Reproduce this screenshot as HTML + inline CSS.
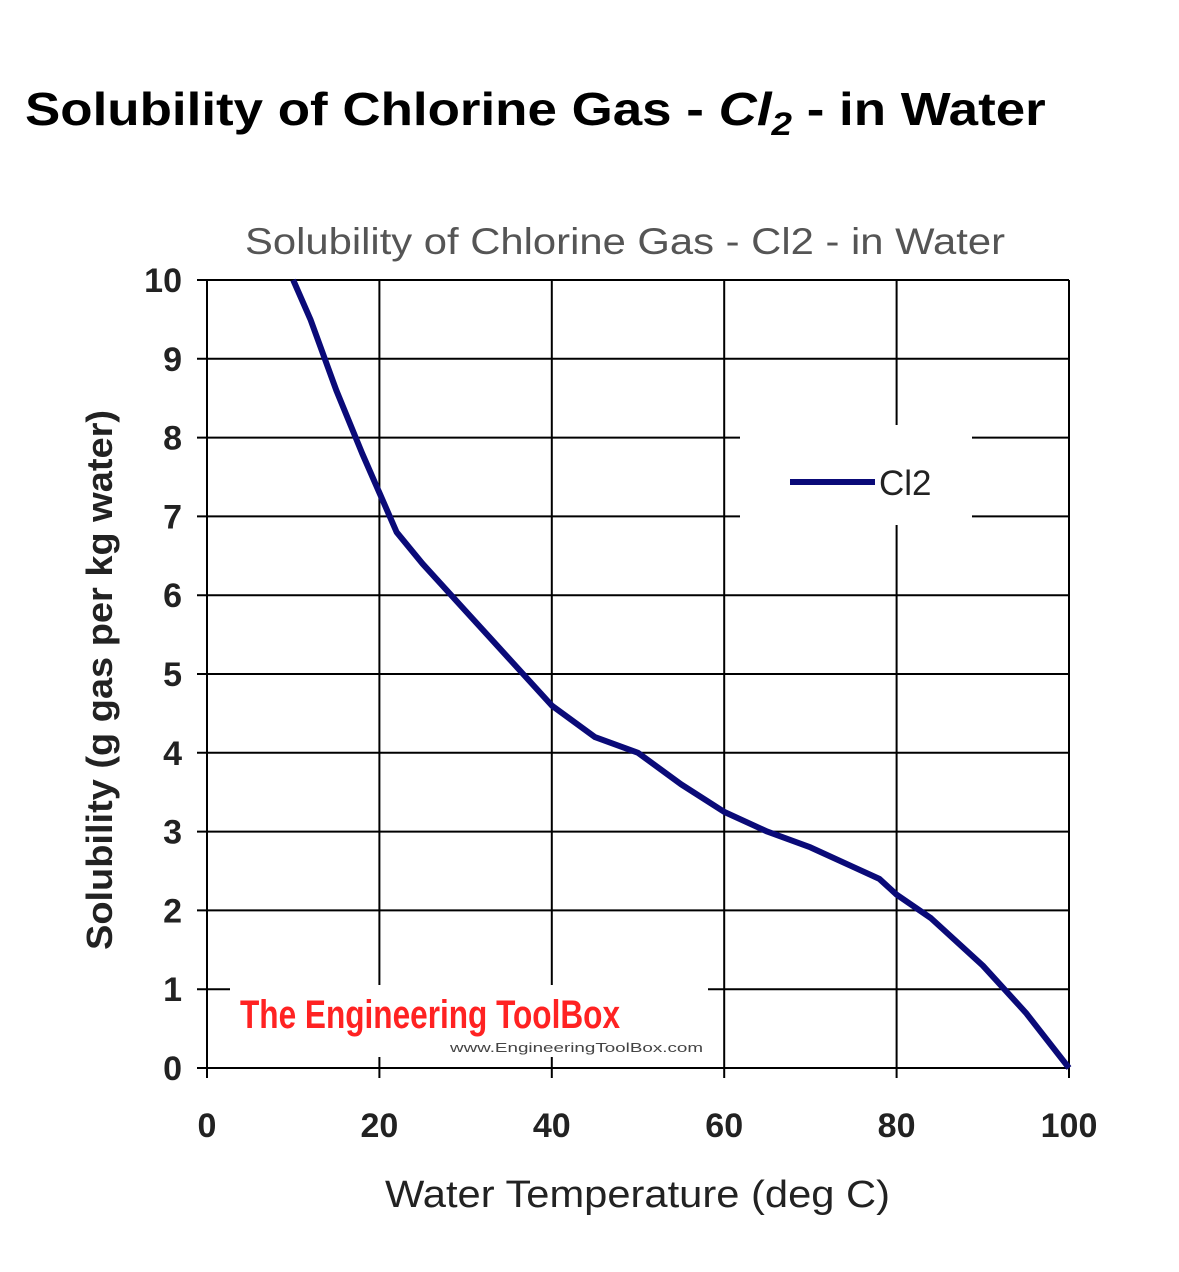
<!DOCTYPE html>
<html><head><meta charset="utf-8"><style>
body{margin:0;background:#fff;width:1179px;height:1272px;overflow:hidden;font-family:"Liberation Sans",sans-serif}
#title{position:absolute;left:25px;top:82px;font-size:46px;font-weight:bold;color:#000;white-space:nowrap;transform:scaleX(1.15);transform-origin:0 0}
</style></head><body>
<div id="title">Solubility of Chlorine Gas - <i>Cl<sub style="font-size:32px">2</sub></i> - in Water</div>
<svg id="chart" width="1179" height="1272" style="position:absolute;left:0;top:0"></svg>
<script>
const temps=[10,12,15,18,20,22,25,30,35,40,45,50,55,60,65,70,75,78,80,84,90,95,100];
const solubility=[10,9.5,8.6,7.8,7.3,6.8,6.4,5.8,5.2,4.6,4.2,4.0,3.6,3.25,3.0,2.8,2.55,2.4,2.2,1.9,1.3,0.7,0];
const xTicks=[0,20,40,60,80,100];
const yTicks=[0,1,2,3,4,5,6,7,8,9,10];
const X0=207,X1=1069,Y0=1068,Y1=280;
const sx=v=>X0+(v-0)/100*(X1-X0);
const sy=v=>Y0-(v-0)/10*(Y0-Y1);
const svg=document.getElementById('chart');
const NS='http://www.w3.org/2000/svg';
function mk(t,a){const e=document.createElementNS(NS,t);for(const k in a)e.setAttribute(k,a[k]);svg.appendChild(e);return e;}
let e;
e=mk('text',{x:245,y:254,'font-size':37,fill:'#555',textLength:760,lengthAdjust:'spacingAndGlyphs'});e.textContent='Solubility of Chlorine Gas - Cl2 - in Water';


yTicks.forEach(v=>{
 const l=mk('line',{x1:197,x2:X1,y1:sy(v),y2:sy(v),stroke:'#000','stroke-width':2});
 
 
 const t=mk('text',{x:182,y:sy(v)+12,'text-anchor':'end','font-size':34,'font-weight':'bold',fill:'#222'});t.textContent=v;
 
 
});
xTicks.forEach(v=>{
 const l=mk('line',{x1:sx(v),x2:sx(v),y1:Y1,y2:1078,stroke:'#000','stroke-width':2});
 
 
 const t=mk('text',{x:sx(v),y:1137,'text-anchor':'middle','font-size':34,'font-weight':'bold',fill:'#222'});t.textContent=v;
 
 
});
e=mk('line',{x1:X1,x2:X1,y1:Y1,y2:Y0,stroke:'#000','stroke-width':2});


e=mk('rect',{x:740,y:425,width:232,height:100,fill:'#fff'});


e=mk('line',{x1:790,x2:875,y1:482,y2:482,stroke:'#0a0a78','stroke-width':6});


e=mk('text',{x:879,y:495,'font-size':35,fill:'#222'});e.textContent='Cl2';


e=mk('rect',{x:230,y:985,width:478,height:72,fill:'#fff'});


e=mk('text',{x:240,y:1028,'font-size':40,'font-weight':'bold',fill:'#f22',textLength:380,lengthAdjust:'spacingAndGlyphs'});e.textContent='The Engineering ToolBox';


e=mk('text',{x:450,y:1052,'font-size':13,fill:'#444',textLength:253,lengthAdjust:'spacingAndGlyphs'});e.textContent='www.EngineeringToolBox.com';


e=mk('polyline',{points:temps.map((t,i)=>sx(t)+','+sy(solubility[i])).join(' '),fill:'none',stroke:'#0a0a78','stroke-width':6,'stroke-linejoin':'round'});


e=mk('text',{x:385,y:1207,'font-size':38,fill:'#222',textLength:505,lengthAdjust:'spacingAndGlyphs'});e.textContent='Water Temperature (deg C)';


e=mk('text',{x:-270,y:0,'font-size':36,'font-weight':'bold',fill:'#222',textLength:540,lengthAdjust:'spacingAndGlyphs',transform:'translate(112,680) rotate(-90)'});e.textContent='Solubility (g gas per kg water)';


</script>
</body></html>
